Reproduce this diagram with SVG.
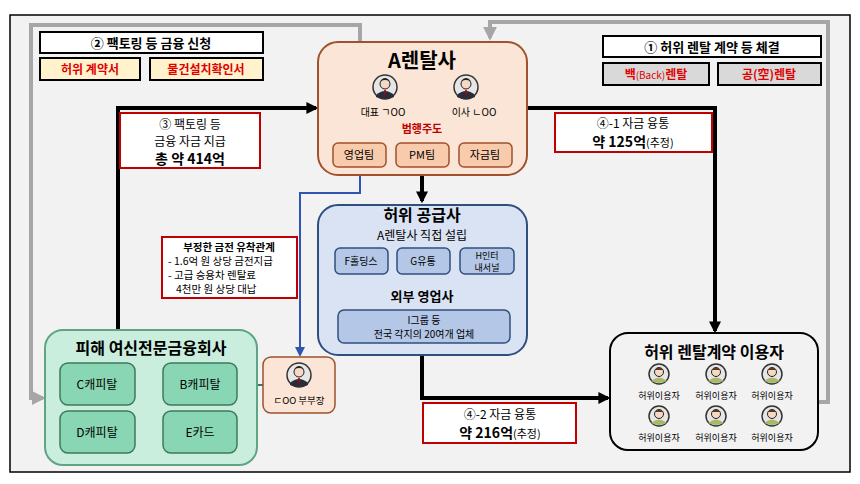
<svg xmlns="http://www.w3.org/2000/svg" width="860" height="484" viewBox="0 0 860 484">
<style>
text{font-family:"Noto Sans CJK KR","Liberation Sans",sans-serif;text-anchor:middle;fill:#000}
.b{font-weight:bold}
.r{fill:#e00000}
.lbl{fill:#fff;stroke:#c00000;stroke-width:2}
.hd{fill:#fff;stroke:#000;stroke-width:2}
.blk{fill:none;stroke:#000;stroke-width:4}
.gry{fill:none;stroke:#a6a6a6;stroke-width:4}
.team{fill:#f8cbad;stroke:#a0522d;stroke-width:1.5}
.sup{fill:#b4c7e7;stroke:#2f4f7f;stroke-width:1.5}
.grn{fill:#88d6b4;stroke:#3c7a5c;stroke-width:1.5}
</style>
<defs>
<marker id="ab" viewBox="0 0 10 10" refX="8" refY="5" markerWidth="3" markerHeight="3" orient="auto"><path d="M0,0L10,5L0,10z" fill="#000"/></marker>
<marker id="ag" viewBox="0 0 10 10" refX="8" refY="5" markerWidth="3.5" markerHeight="3.5" orient="auto"><path d="M0,0L10,5L0,10z" fill="#a6a6a6"/></marker>
<marker id="au" viewBox="0 0 10 10" refX="8" refY="5" markerWidth="5" markerHeight="5" orient="auto"><path d="M0,0L10,5L0,10z" fill="#2f55b0"/></marker>
<g id="exec"><circle r="12" fill="#e7e6e6" stroke="#333" stroke-width="1.5"/><circle cy="-3" r="5" fill="#f4d9c6" stroke="#222"/><path d="M-5,-6q5,-6 10,0q-5,-2 -10,0z" fill="#222"/><path d="M-9,8q9,-8 18,0l0,2q-9,4 -18,0z" fill="#2b2b3a"/><path d="M-1,3l1,6l1,-6z" fill="#c00"/></g>
<g id="user"><circle r="10" fill="#e7e6e6" stroke="#333" stroke-width="1.5"/><circle cy="-2" r="4.5" fill="#f4d9c6" stroke="#222"/><path d="M-4.5,-4q4.5,-5 9,0z" fill="#5a3a1a"/><path d="M-8,7q8,-7 16,0q-8,4 -16,0z" fill="#a9b96a"/></g>
</defs>
<rect x="10" y="15" width="840" height="457" fill="#f2f2f2" stroke="#000" stroke-width="1.5"/>
<g id="connectors">
<path class="gry" d="M360,42V25H31V398H43" marker-end="url(#ag)"/>
<path class="gry" d="M818,402H828V22H490V38" marker-end="url(#ag)"/>
<path class="blk" d="M118,333V108H316" marker-end="url(#ab)"/>
<path class="blk" d="M527,108H715V331" marker-end="url(#ab)"/>
<path class="blk" d="M422,175V201" marker-end="url(#ab)"/>
<path class="blk" d="M422,355V398H608" marker-end="url(#ab)"/>
<path d="M360,175V193H300V355" fill="none" stroke="#2f55b0" stroke-width="2" marker-end="url(#au)"/>
<path d="M237,385H263" stroke="#3c7a5c" stroke-width="2"/>
</g>
<g id="apply">
<rect class="hd" x="40" y="32" width="223" height="21"/><text x="151" y="48" font-size="13" class="b">② 팩토링 등 금융 신청</text>
<rect x="40" y="58" width="100" height="22" fill="#fff2cc" stroke="#000" stroke-width="2"/><text x="90" y="74" font-size="12" class="b r">허위 계약서</text>
<rect x="150" y="58" width="113" height="22" fill="#fff2cc" stroke="#000" stroke-width="2"/><text x="206" y="74" font-size="12" class="b r">물건설치확인서</text>
</g>
<g id="contract">
<rect class="hd" x="603" y="36" width="218" height="21"/><text x="712" y="52" font-size="13" class="b">① 허위 렌탈 계약 등 체결</text>
<rect x="603" y="63" width="106" height="22" fill="#d9d9d9" stroke="#000" stroke-width="2"/><text x="656" y="79" font-size="12" class="b r">백<tspan font-weight="normal" font-size="10" fill="#e00000">(Back)</tspan>렌탈</text>
<rect x="718" y="63" width="103" height="22" fill="#d9d9d9" stroke="#000" stroke-width="2"/><text x="769" y="79" font-size="12" class="b r">공(空)렌탈</text>
</g>
<g id="arental">
<rect x="318" y="42" width="209" height="133" rx="20" fill="#fbe5d6" stroke="#a0522d" stroke-width="2"/>
<text x="422" y="68" font-size="20" class="b">A렌탈사</text>
<use href="#exec" x="385" y="87"/><use href="#exec" x="466" y="87"/>
<text x="383" y="116" font-size="10">대표 ㄱOO</text><text x="474" y="116" font-size="10">이사 ㄴOO</text>
<text x="422" y="133" font-size="11" class="b" style="fill:#c00000">범행주도</text>
<rect class="team" x="333" y="143" width="53" height="24" rx="5"/><text x="359" y="159" font-size="11">영업팀</text>
<rect class="team" x="396" y="143" width="53" height="24" rx="5"/><text x="422" y="159" font-size="11">PM팀</text>
<rect class="team" x="459" y="143" width="53" height="24" rx="5"/><text x="485" y="159" font-size="11">자금팀</text>
</g>
<g id="label3"><rect class="lbl" x="120" y="113" width="140" height="55"/>
<text x="190" y="129" font-size="12">③ 팩토링 등</text><text x="190" y="146" font-size="12">금융 자금 지급</text><text x="190" y="164" font-size="14" class="b">총 약 414억</text></g>
<g id="label41"><rect class="lbl" x="555" y="113" width="157" height="39"/>
<text x="633" y="128" font-size="12">④-1 자금 융통</text><text x="633" y="147" font-size="14" class="b">약 125억<tspan font-size="11" font-weight="normal">(추정)</tspan></text></g>
<g id="supplier">
<rect x="318" y="205" width="209" height="150" rx="20" fill="#dae3f3" stroke="#2f4f7f" stroke-width="2"/>
<text x="422" y="221" font-size="16" class="b">허위 공급사</text><text x="422" y="240" font-size="12">A렌탈사 직접 설립</text>
<rect class="sup" x="335" y="248" width="53" height="26" rx="5"/><text x="361" y="265" font-size="10">F홀딩스</text>
<rect class="sup" x="397" y="248" width="53" height="26" rx="5"/><text x="423" y="265" font-size="10">G유통</text>
<rect class="sup" x="460" y="248" width="54" height="26" rx="5"/><text x="487" y="259" font-size="9">H인터</text><text x="487" y="271" font-size="9">내서널</text>
<text x="422" y="301" font-size="13" class="b">외부 영업사</text>
<rect class="sup" x="338" y="310" width="172" height="33" rx="6"/><text x="424" y="324" font-size="10">I그룹 등</text><text x="424" y="338" font-size="10">전국 각지의 20여개 업체</text>
</g>
<g id="note"><rect class="lbl" x="162" y="237" width="135" height="61"/>
<text x="229" y="251" font-size="10.5" class="b">부정한 금전 유착관계</text>
<text x="168" y="265" font-size="10.5" style="text-anchor:start">- 1.6억 원 상당 금전지급</text>
<text x="168" y="279" font-size="10.5" style="text-anchor:start">- 고급 승용차 렌탈료</text>
<text x="176" y="293" font-size="10.5" style="text-anchor:start">4천만 원 상당 대납</text></g>
<g id="label42"><rect class="lbl" x="423" y="403" width="153" height="40"/>
<text x="500" y="419" font-size="12">④-2 자금 융통</text><text x="500" y="438" font-size="14" class="b">약 216억<tspan font-size="11" font-weight="normal">(추정)</tspan></text></g>
<g id="users">
<rect x="610" y="333" width="208" height="117" rx="18" fill="#f2f2f2" stroke="#000" stroke-width="2"/>
<text x="714" y="358" font-size="16" class="b">허위 렌탈계약 이용자</text>
<use href="#user" x="659" y="374"/><use href="#user" x="716" y="374"/><use href="#user" x="772" y="374"/>
<use href="#user" x="659" y="416"/><use href="#user" x="716" y="416"/><use href="#user" x="772" y="416"/>
<text x="659" y="399" font-size="9">허위이용자</text><text x="716" y="399" font-size="9">허위이용자</text><text x="772" y="399" font-size="9">허위이용자</text>
<text x="659" y="441" font-size="9">허위이용자</text><text x="716" y="441" font-size="9">허위이용자</text><text x="772" y="441" font-size="9">허위이용자</text>
</g>
<g id="victims">
<rect x="45" y="330" width="212" height="135" rx="18" fill="#c9eedd" stroke="#5fa584" stroke-width="2"/>
<text x="151" y="354" font-size="16" class="b">피해 여신전문금융회사</text>
<rect class="grn" x="60" y="363" width="75" height="42" rx="8"/><text x="97" y="389" font-size="12">C캐피탈</text>
<rect class="grn" x="163" y="363" width="74" height="42" rx="8"/><text x="200" y="389" font-size="12">B캐피탈</text>
<rect class="grn" x="60" y="411" width="75" height="42" rx="8"/><text x="97" y="437" font-size="12">D캐피탈</text>
<rect class="grn" x="163" y="411" width="74" height="42" rx="8"/><text x="200" y="437" font-size="12">E카드</text>
</g>
<g id="deputy">
<rect x="263" y="357" width="72" height="56" rx="8" fill="#fbe5d6" stroke="#a0522d" stroke-width="1.5"/>
<use href="#exec" x="299" y="375"/>
<text x="299" y="404" font-size="9.5">ㄷOO 부부장</text>
</g>
</svg>
